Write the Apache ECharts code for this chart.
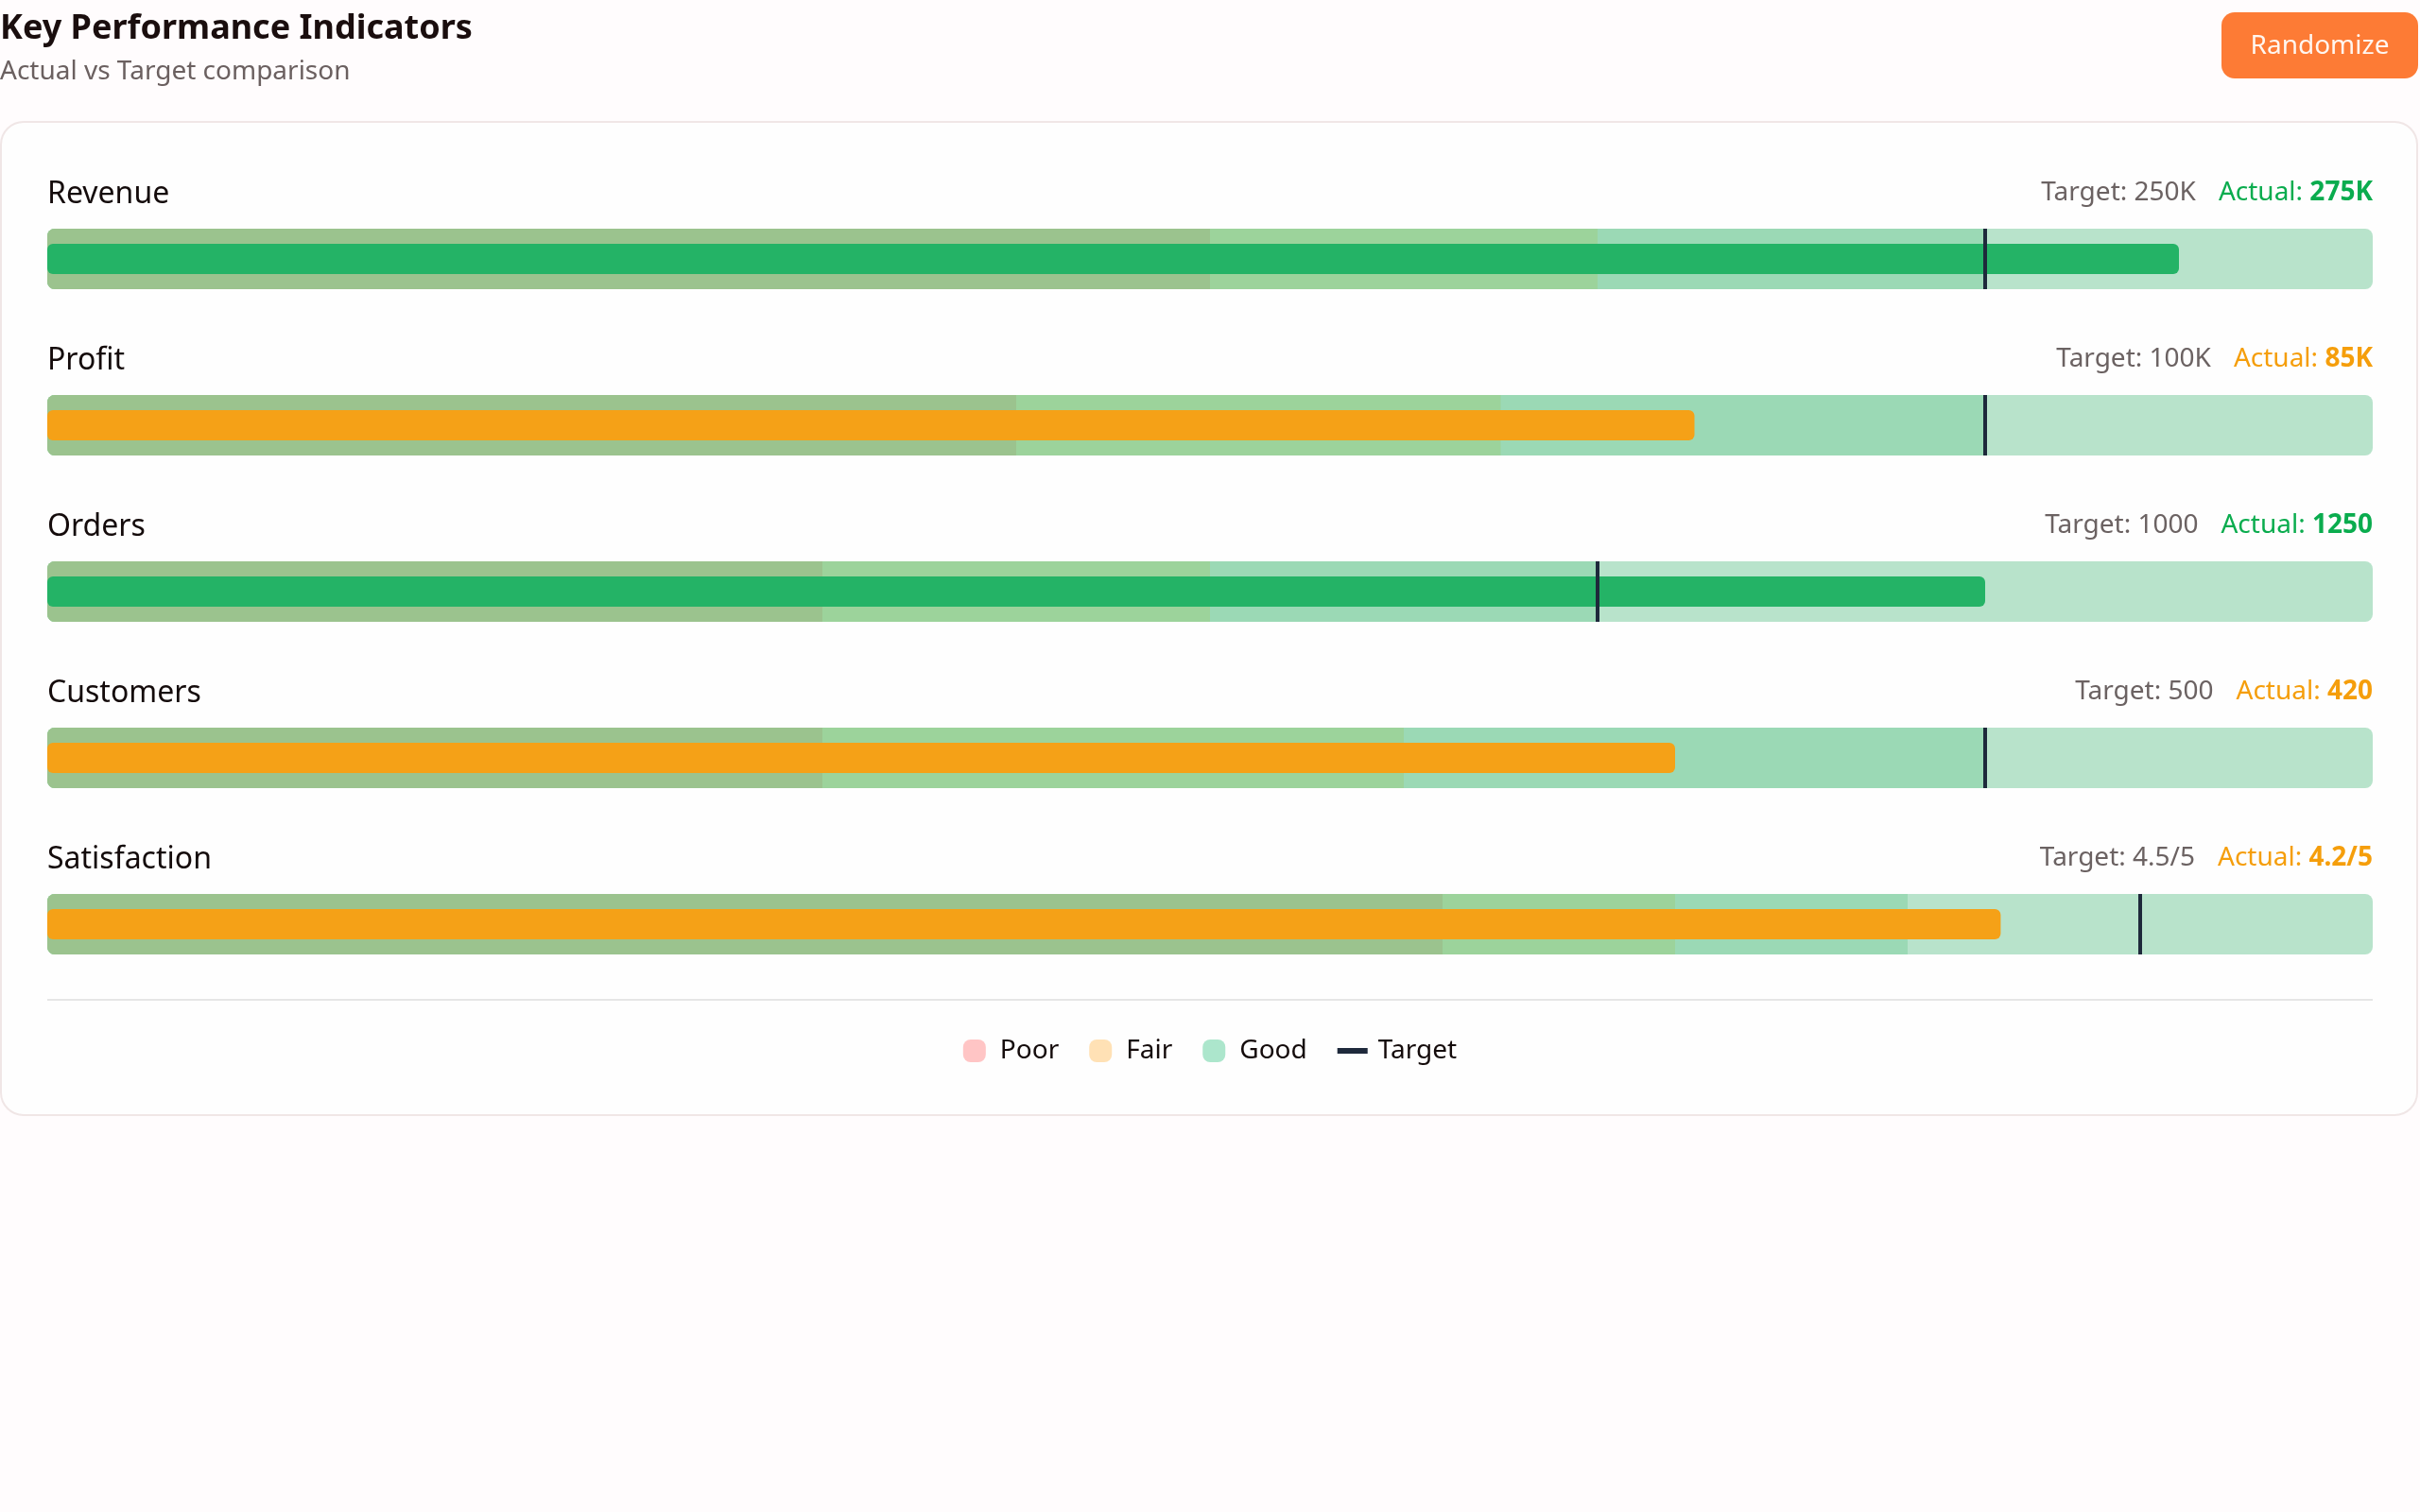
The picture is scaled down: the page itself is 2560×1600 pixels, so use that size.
<!DOCTYPE html>
<html>
<head>
<meta charset="utf-8">
<script src="https://cdn.jsdelivr.net/npm/echarts@6/dist/echarts.min.js"></script>
<style>
html,body{margin:0;padding:0;background:#fffcfd;}
#chart{width:2560px;height:1600px;}
</style>
</head>
<body>
<div id="chart"></div>
<script>
// ---- data ----
const categories = ['Revenue', 'Profit', 'Orders', 'Customers', 'Satisfaction'];
const actualValues = [275, 85, 1250, 420, 4.2];
const targetValues = [250, 100, 1000, 500, 4.5];
const poorLimits = [150, 50, 500, 200, 3];
const fairLimits = [200, 75, 750, 350, 3.5];
const goodLimits = [250, 100, 1000, 500, 4];
const maxValues = [300, 120, 1500, 600, 5];
const unitSuffix = ['K', 'K', '', '', '/5'];
const legendNames = ['Poor', 'Fair', 'Good', 'Target'];

// ---- style ----
const FONT = '"Noto Sans", sans-serif';
const W = 2560;
const LEFT = 50, RIGHT = 50;
const ROW_TOP = 242, ROW_PITCH = 176, BAR_H = 64, ACT_H = 32;
const C = {
  max: '#b8e3cb', good: '#9bd9b5', fair: '#9cd39b', poor: '#9bc38e',
  green: '#24b366', orange: '#f5a117', target: '#1e293b',
  greenText: '#0aac4e', orangeText: '#f59e0b',
  legendPoor: '#ffc5c5', legendFair: '#ffe1b5', legendGood: '#ace6cc',
  dark: '#140b0b', gray: '#6b6262'
};

const fmt = (v, i) => String(v) + unitSuffix[i];

const grids = [], xAxes = [], yAxes = [], series = [];
const graphics = [
  { type: 'rect', z: 0, shape: { x: 1, y: 129, width: 2556, height: 1051, r: 24 },
    style: { fill: '#fefefe', stroke: '#f0e6e6', lineWidth: 2 } },
  { type: 'text', z: 10, x: 0, y: 31,
    style: { text: 'Key Performance Indicators', fontFamily: FONT, fontSize: 36, fontWeight: 'bold',
      fill: '#1a0e0e', align: 'left', verticalAlign: 'middle' } },
  { type: 'text', z: 10, x: 0, y: 76,
    style: { text: 'Actual vs Target comparison', fontFamily: FONT, fontSize: 28,
      fill: '#6b6060', align: 'left', verticalAlign: 'middle' } },
  { type: 'rect', z: 10, shape: { x: 2350, y: 13, width: 208, height: 70, r: 14 },
    style: { fill: '#fd7b35' } },
  { type: 'text', z: 11, x: 2454, y: 49,
    style: { text: 'Randomize', fontFamily: FONT, fontSize: 28, fill: '#fff6f0',
      align: 'center', verticalAlign: 'middle' } },
  { type: 'line', z: 10, shape: { x1: LEFT, y1: 1058, x2: W - RIGHT, y2: 1058 },
    style: { stroke: '#e6e6e6', lineWidth: 2 } }
];

categories.forEach((cat, i) => {
  const top = ROW_TOP + i * ROW_PITCH;
  grids.push({ left: LEFT, right: RIGHT, top: top, height: BAR_H });
  xAxes.push({ gridIndex: i, type: 'value', min: 0, max: maxValues[i], show: false });
  yAxes.push({ gridIndex: i, type: 'category', data: [cat], show: false });
  yAxes.push({ gridIndex: i, type: 'category', data: [cat], show: false });
  const band = (name, vals, color, radius) => ({
    name, type: 'bar', xAxisIndex: i, yAxisIndex: 2 * i, data: [vals[i]],
    barWidth: BAR_H, barGap: '-100%', silent: true,
    itemStyle: { color, borderRadius: radius }
  });
  series.push(band('Range', maxValues, C.max, 8));
  series.push(band('Good', goodLimits, C.good, [8, 0, 0, 8]));
  series.push(band('Fair', fairLimits, C.fair, [8, 0, 0, 8]));
  series.push(band('Poor', poorLimits, C.poor, [8, 0, 0, 8]));
  const ok = actualValues[i] >= targetValues[i];
  series.push({
    name: 'Actual', type: 'bar', xAxisIndex: i, yAxisIndex: 2 * i + 1, data: [actualValues[i]],
    barWidth: ACT_H, z: 3, itemStyle: { color: ok ? C.green : C.orange, borderRadius: 6 }
  });
  series.push({
    name: 'Target', type: 'scatter', xAxisIndex: i, yAxisIndex: 2 * i + 1,
    data: [[targetValues[i], cat]], symbol: 'rect', symbolSize: [4, BAR_H], z: 4,
    itemStyle: { color: C.target, opacity: 1 }
  });
  const col = ok ? C.greenText : C.orangeText;
  graphics.push({ type: 'text', z: 10, x: LEFT, y: top - 36,
    style: { text: cat, fontFamily: FONT, fontSize: 32, fill: C.dark, align: 'left', verticalAlign: 'middle' } });
  graphics.push({ type: 'text', z: 10, x: W - RIGHT, y: top - 38,
    style: {
      text: '{t|Target: ' + fmt(targetValues[i], i) + '}{a|Actual: }{b|' + fmt(actualValues[i], i) + '}',
      align: 'right', verticalAlign: 'middle',
      rich: {
        t: { fontFamily: FONT, fontSize: 28, fill: C.gray },
        a: { fontFamily: FONT, fontSize: 28, fill: col, padding: [0, 0, 0, 24] },
        b: { fontFamily: FONT, fontSize: 28, fontWeight: 'bold', fill: col }
      }
    } });
});

const ROUND = 'path://M8,0H16A8,8,0,0,1,24,8V16A8,8,0,0,1,16,24H8A8,8,0,0,1,0,16V8A8,8,0,0,1,8,0Z';
const legendIcons = [ROUND, ROUND, ROUND, 'path://M0,0H32V6H0Z'];
const legendColors = [C.legendPoor, C.legendFair, C.legendGood, C.target];

const chart = echarts.init(document.getElementById('chart'));
chart.setOption({
  backgroundColor: '#fffcfd',
  animation: false,
  grid: grids,
  xAxis: xAxes,
  yAxis: yAxes,
  series: series,
  graphic: graphics,
  legend: {
    top: 1098, left: 'center', padding: 0, itemWidth: 32, itemHeight: 24, itemGap: 32,
    selectedMode: false,
    textStyle: { fontFamily: FONT, fontSize: 28, color: C.dark, padding: [0, 0, 0, 6] },
    data: legendNames.map((n, k) => ({ name: n, icon: legendIcons[k], itemStyle: { color: legendColors[k], opacity: 1 } }))
  },
  tooltip: { show: false }
});
</script>
</body>
</html>
